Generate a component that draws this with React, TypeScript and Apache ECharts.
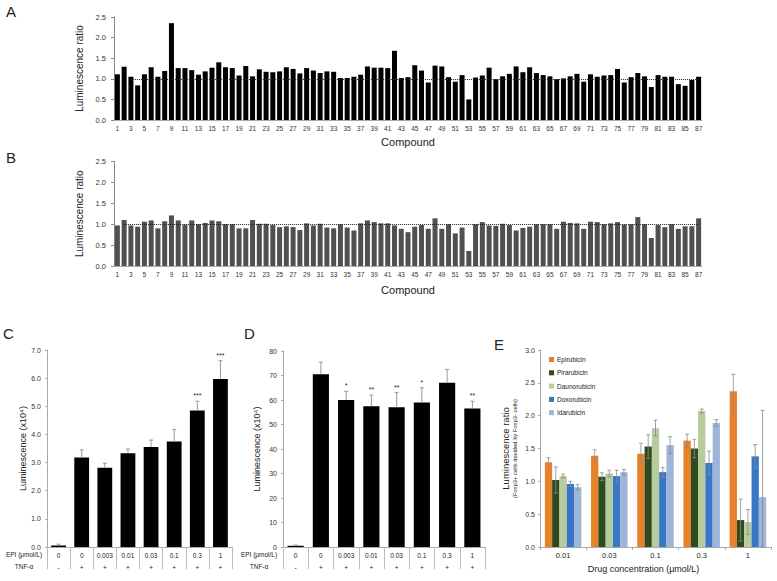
import React, { useEffect, useRef } from "react";
import * as echarts from "echarts";

const FONT = "'Liberation Sans', Arial, sans-serif";

const compounds: string[] = Array.from({ length: 87 }, (_, i) => String(i + 1));

const ratioA = [
  1.11, 1.29, 1.05, 0.84, 1.11, 1.28, 1.05, 1.19, 2.35, 1.26,
  1.26, 1.21, 1.10, 1.18, 1.27, 1.40, 1.28, 1.26, 1.08, 1.31,
  1.06, 1.23, 1.17, 1.16, 1.18, 1.28, 1.24, 1.13, 1.26, 1.20,
  1.14, 1.18, 1.17, 1.02, 1.02, 1.05, 1.10, 1.30, 1.27, 1.27,
  1.26, 1.68, 1.02, 1.04, 1.33, 1.20, 0.91, 1.32, 1.30, 1.04,
  0.93, 1.09, 0.50, 1.03, 1.08, 1.27, 0.99, 1.06, 1.12, 1.30,
  1.16, 1.28, 1.14, 1.09, 1.06, 0.99, 1.01, 1.06, 1.12, 0.93,
  1.11, 1.05, 1.08, 1.09, 1.24, 0.91, 1.04, 1.14, 1.06, 0.80,
  1.09, 1.05, 1.05, 0.87, 0.83, 0.97, 1.05,
];

const ratioB = [
  0.97, 1.10, 0.97, 0.94, 1.06, 1.09, 0.90, 1.07, 1.21, 1.09,
  0.99, 1.09, 1.00, 1.03, 1.09, 1.07, 1.00, 1.00, 0.90, 0.90,
  1.10, 1.01, 1.01, 0.98, 0.93, 0.95, 0.93, 0.86, 1.02, 0.97,
  1.01, 0.92, 0.90, 1.00, 0.92, 0.85, 1.02, 1.09, 1.05, 1.02,
  1.02, 0.97, 0.89, 0.81, 0.94, 0.98, 0.89, 1.14, 0.89, 1.00,
  0.78, 0.92, 0.36, 1.00, 1.05, 0.97, 0.96, 1.01, 0.98, 0.85,
  0.91, 0.94, 1.00, 1.00, 1.00, 0.89, 1.06, 1.03, 1.02, 0.89,
  1.06, 1.05, 1.00, 1.02, 1.05, 0.99, 1.00, 1.17, 1.00, 0.67,
  0.98, 0.93, 1.00, 0.89, 0.95, 0.95, 1.14,
];

const epiDoses = ["0", "0", "0.003", "0.01", "0.03", "0.1", "0.3", "1"];
const tnfSigns = ["-", "+", "+", "+", "+", "+", "+", "+"];

const lumC = [0.05, 3.18, 2.82, 3.33, 3.55, 3.75, 4.85, 5.97];
const errC = [0.05, 0.27, 0.16, 0.15, 0.25, 0.43, 0.33, 0.65];
const sigC = ["", "", "", "", "", "", "***", "***"];

const lumD = [0.5, 70.5, 60, 57.5, 57, 59, 67, 56.5];
const errD = [0.3, 5, 3.5, 4.5, 6, 6, 5.5, 3];
const sigD = ["", "", "*", "**", "**", "*", "", "**"];

const drugConc = ["0.01", "0.03", "0.1", "0.3", "1"];
const drugs = ["Epirubicin", "Pirarubicin", "Daunorubicin", "Doxorubicin", "Idarubicin"];
const epirubicin = [1.29, 1.39, 1.42, 1.62, 2.37];
const epirubicinErr = [0.07, 0.09, 0.16, 0.10, 0.26];
const pirarubicin = [1.02, 1.07, 1.53, 1.50, 0.41];
const pirarubicinErr = [0.20, 0.06, 0.18, 0.14, 0.32];
const daunorubicin = [1.08, 1.12, 1.81, 2.07, 0.38];
const daunorubicinErr = [0.03, 0.05, 0.12, 0.03, 0.19];
const doxorubicin = [0.96, 1.08, 1.14, 1.28, 1.38];
const doxorubicinErr = [0.04, 0.09, 0.07, 0.18, 0.18];
const idarubicin = [0.91, 1.14, 1.55, 1.89, 0.76];
const idarubicinErr = [0.04, 0.04, 0.13, 0.05, 1.32];

const drugColors = ["#E8822A", "#2E4A1E", "#B7CC9C", "#3877C6", "#9DB5D9"];

export default function App() {
  const ref = useRef<HTMLDivElement>(null);
  useEffect(() => {
    if (!ref.current) return;
    const chart = echarts.init(ref.current, undefined, { renderer: "svg" });

    const grids = [
      { left: 114, top: 17, width: 588, height: 103 },
      { left: 114, top: 161.5, width: 588, height: 104.5 },
      { left: 47, top: 350, width: 185, height: 197 },
      { left: 283, top: 351, width: 202, height: 196 },
      { left: 540, top: 350, width: 231, height: 197 },
    ];

    const ratioXAxis = (gi: number, gap: number) => ({
      type: "category",
      gridIndex: gi,
      data: compounds,
      name: "Compound",
      nameLocation: "middle",
      nameGap: gap,
      nameTextStyle: { fontSize: 11, color: "#222", fontFamily: FONT },
      axisLine: { lineStyle: { color: "#aaa" } },
      axisTick: { show: false },
      axisLabel: { interval: 1, fontSize: 6.5, color: "#333", margin: 5, fontFamily: FONT },
    });
    const ratioYAxis = (gi: number) => ({
      type: "value",
      gridIndex: gi,
      min: 0,
      max: 2.5,
      interval: 0.5,
      name: "Luminescence ratio",
      nameLocation: "middle",
      nameGap: 26,
      nameTextStyle: { fontSize: 10, color: "#222", fontFamily: FONT },
      axisLine: { show: true, lineStyle: { color: "#888" } },
      axisTick: { show: true, length: 3, lineStyle: { color: "#888" } },
      splitLine: { show: false },
      axisLabel: {
        fontSize: 7.5,
        color: "#333",
        margin: 8,
        fontFamily: FONT,
        formatter: (v: number) => v.toFixed(1),
      },
    });

    const tableXAxis = (gi: number) => ({
      type: "category",
      gridIndex: gi,
      data: epiDoses.map((_, i) => String(i)),
      axisLine: { lineStyle: { color: "#aaa" } },
      axisTick: { show: true, length: 22, lineStyle: { color: "#bbb" } },
      axisLabel: {
        interval: 0,
        margin: 2,
        fontSize: 6.5,
        lineHeight: 12,
        color: "#222",
        fontFamily: FONT,
        formatter: (_v: string, i: number) => epiDoses[i] + "\n" + tnfSigns[i],
      },
    });
    const lumYAxis = (gi: number, max: number, interval: number, gap: number, fmt: (v: number) => string) => ({
      type: "value",
      gridIndex: gi,
      min: 0,
      max,
      interval,
      name: "Luminescence (x10⁴)",
      nameLocation: "middle",
      nameGap: gap,
      nameTextStyle: { fontSize: 9, color: "#222", fontFamily: FONT },
      axisLine: { show: true, lineStyle: { color: "#aaa" } },
      axisTick: { show: true, length: 2, lineStyle: { color: "#aaa" } },
      splitLine: { show: false },
      axisLabel: { fontSize: 7, color: "#333", margin: 6, fontFamily: FONT, formatter: fmt },
    });

    const errSeries = (gi: number, vals: number[], errs: number[], sigs: string[]) => ({
      type: "custom",
      xAxisIndex: gi,
      yAxisIndex: gi,
      silent: true,
      z: 5,
      data: vals.map((v, i) => [i, v, v + errs[i]]),
      renderItem: (params: any, api: any) => {
        const x = api.value(0);
        const p0 = api.coord([x, api.value(1)]);
        const p1 = api.coord([x, api.value(2)]);
        const children: any[] = [
          { type: "line", shape: { x1: p0[0], y1: p0[1], x2: p1[0], y2: p1[1] }, style: { stroke: "#999", lineWidth: 1 } },
          { type: "line", shape: { x1: p1[0] - 2, y1: p1[1], x2: p1[0] + 2, y2: p1[1] }, style: { stroke: "#999", lineWidth: 1 } },
        ];
        const s = sigs[params.dataIndex];
        if (s) {
          children.push({
            type: "text",
            x: p1[0],
            y: p1[1] - 2,
            style: { text: s, fill: "#222", font: "7px " + FONT, align: "center", verticalAlign: "bottom" },
          });
        }
        return { type: "group", children };
      },
    });

    const drugVals = [epirubicin, pirarubicin, daunorubicin, doxorubicin, idarubicin];
    const drugErrs = [epirubicinErr, pirarubicinErr, daunorubicinErr, doxorubicinErr, idarubicinErr];
    const BW = 7.3;

    const dotted = (startIdx: number) => ({
      symbol: "none",
      silent: true,
      label: { show: false },
      lineStyle: { type: "dotted", color: "#222", width: 1 },
      data: [[{ coord: [startIdx, 1] }, { coord: [86, 1] }]],
    });

    const option: any = {
      animation: false,
      backgroundColor: "#fff",
      textStyle: { fontFamily: FONT },
      grid: grids,
      legend: {
        orient: "vertical",
        left: 544,
        top: 351,
        itemWidth: 5,
        itemHeight: 5,
        itemGap: 6.3,
        icon: "rect",
        data: drugs,
        textStyle: { fontSize: 6.5, color: "#222", fontFamily: FONT, padding: [0, 0, 0, -2] },
      },
      xAxis: [
        ratioXAxis(0, 16),
        ratioXAxis(1, 18),
        tableXAxis(2),
        tableXAxis(3),
        {
          type: "category",
          gridIndex: 4,
          data: drugConc,
          name: "Drug concentration (μmol/L)",
          nameLocation: "middle",
          nameGap: 17,
          nameTextStyle: { fontSize: 9, color: "#222", fontFamily: FONT, padding: [0, 24, 0, 0] },
          axisLine: { lineStyle: { color: "#aaa" } },
          axisTick: { show: true, length: 3, lineStyle: { color: "#aaa" } },
          axisLabel: { fontSize: 7.5, color: "#222", margin: 4, fontFamily: FONT },
        },
      ],
      yAxis: [
        ratioYAxis(0),
        ratioYAxis(1),
        lumYAxis(2, 7, 1, 20, (v) => v.toFixed(1)),
        lumYAxis(3, 80, 10, 22, (v) => String(v)),
        {
          type: "value",
          gridIndex: 4,
          min: 0,
          max: 3,
          interval: 0.5,
          name: "{a|Luminescence ratio}\n{b|(Foxp3+ cells devided by Foxp3- cells)}",
          nameLocation: "middle",
          nameGap: 21,
          nameTextStyle: {
            color: "#222",
            fontFamily: FONT,
            rich: {
              a: { fontSize: 9.5, lineHeight: 11, fontFamily: FONT, color: "#222" },
              b: { fontSize: 5.8, lineHeight: 8, fontFamily: FONT, color: "#222" },
            },
          },
          axisLine: { show: true, lineStyle: { color: "#aaa" } },
          axisTick: { show: true, length: 2, lineStyle: { color: "#aaa" } },
          splitLine: { show: false },
          axisLabel: { fontSize: 7, color: "#333", margin: 5, fontFamily: FONT, formatter: (v: number) => v.toFixed(1) },
        },
      ],
      series: [
        {
          type: "bar",
          xAxisIndex: 0,
          yAxisIndex: 0,
          data: ratioA,
          barCategoryGap: "26%",
          itemStyle: { color: "#000" },
          markLine: dotted(2),
        },
        {
          type: "bar",
          xAxisIndex: 1,
          yAxisIndex: 1,
          data: ratioB,
          barCategoryGap: "26%",
          itemStyle: { color: "#505050" },
          markLine: dotted(1),
        },
        {
          type: "bar",
          xAxisIndex: 2,
          yAxisIndex: 2,
          data: lumC,
          barCategoryGap: "36%",
          itemStyle: { color: "#000" },
        },
        errSeries(2, lumC, errC, sigC),
        {
          type: "bar",
          xAxisIndex: 3,
          yAxisIndex: 3,
          data: lumD,
          barCategoryGap: "36%",
          itemStyle: { color: "#000" },
        },
        errSeries(3, lumD, errD, sigD),
        ...drugs.map((name, k) => ({
          type: "bar",
          name,
          xAxisIndex: 4,
          yAxisIndex: 4,
          data: drugVals[k],
          barWidth: BW,
          barGap: "0%",
          itemStyle: { color: drugColors[k] },
        })),
        {
          type: "custom",
          xAxisIndex: 4,
          yAxisIndex: 4,
          silent: true,
          z: 5,
          data: drugConc.flatMap((_, i) => drugs.map((__, k) => [i, k, drugVals[k][i], drugErrs[k][i]])),
          renderItem: (_params: any, api: any) => {
            const i = api.value(0);
            const k = api.value(1);
            const v = api.value(2);
            const e = api.value(3);
            const off = (k - 2) * BW;
            const pt = api.coord([i, v + e]);
            const pb = api.coord([i, Math.max(0, v - e)]);
            const x = pt[0] + off;
            const st = { stroke: "#8a8a8a", lineWidth: 0.8 };
            return {
              type: "group",
              children: [
                { type: "line", shape: { x1: x, y1: pt[1], x2: x, y2: pb[1] }, style: st },
                { type: "line", shape: { x1: x - 2, y1: pt[1], x2: x + 2, y2: pt[1] }, style: st },
                { type: "line", shape: { x1: x - 2, y1: pb[1], x2: x + 2, y2: pb[1] }, style: st },
              ],
            };
          },
        },
      ],
      graphic: [
        { type: "text", left: 6, top: 4, style: { text: "A", font: "15px " + FONT, fill: "#222" } },
        { type: "text", left: 6, top: 150, style: { text: "B", font: "15px " + FONT, fill: "#222" } },
        { type: "text", left: 3, top: 326, style: { text: "C", font: "15px " + FONT, fill: "#222" } },
        { type: "text", left: 244, top: 326, style: { text: "D", font: "15px " + FONT, fill: "#222" } },
        { type: "text", left: 494, top: 337, style: { text: "E", font: "15px " + FONT, fill: "#222" } },
        { type: "text", x: 24, y: 554, style: { text: "EPI (μmol/L)", font: "6.5px " + FONT, fill: "#222", align: "center", verticalAlign: "middle" } },
        { type: "text", x: 24, y: 566, style: { text: "TNF-α", font: "6.5px " + FONT, fill: "#222", align: "center", verticalAlign: "middle" } },
        { type: "text", x: 259, y: 554, style: { text: "EPI (μmol/L)", font: "6.5px " + FONT, fill: "#222", align: "center", verticalAlign: "middle" } },
        { type: "text", x: 259, y: 566, style: { text: "TNF-α", font: "6.5px " + FONT, fill: "#222", align: "center", verticalAlign: "middle" } },
      ],
    };

    chart.setOption(option);
    return () => chart.dispose();
  }, []);

  return (
    <div
      ref={ref}
      style={{ position: "fixed", left: 0, top: 0, width: 777, height: 581, background: "#fff" }}
    />
  );
}
